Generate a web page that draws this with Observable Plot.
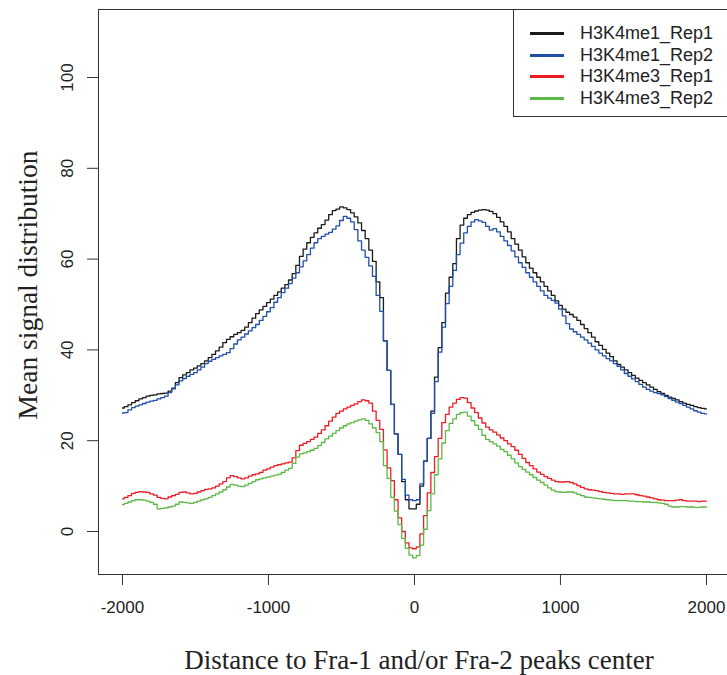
<!DOCTYPE html>
<html>
<head>
<meta charset="utf-8">
<script src="https://cdn.jsdelivr.net/npm/d3@7"></script>
<script src="https://cdn.jsdelivr.net/npm/@observablehq/plot@0.6"></script>
<style>
  html, body { margin: 0; padding: 0; background: #fff; overflow: hidden; }
  #wrap { position: relative; width: 727px; height: 675px; overflow: hidden; }
  #legend {
    position: absolute; left: 513px; top: 9px; width: 240px; height: 108px;
    border: 1px solid #333; background: #fff; box-sizing: border-box;
    font-family: "Liberation Sans", Arial, sans-serif; font-size: 18px; color: #222;
  }
  .row { position: absolute; left: 0; height: 20px; display: flex; align-items: center; }
  .sw { position: absolute; left: 16px; width: 34px; height: 3px; }
  .lb { position: absolute; left: 66px; white-space: nowrap; line-height: 20px; }
</style>
</head>
<body>
<div id="wrap">
  <div id="chart"></div>
  <div id="legend"></div>
</div>
<script>
// ---- data (bin centers every 25 bp, -2000 .. 2000) ----
const xStart = -2000, xStep = 25;
const seriesNames = ["H3K4me1_Rep1", "H3K4me1_Rep2", "H3K4me3_Rep1", "H3K4me3_Rep2"];
const seriesColors = ["#1a1a1a", "#1f4fa8", "#ec1c24", "#5cb946"];
const xTicks = [-2000, -1000, 0, 1000, 2000];
const yTicks = [0, 20, 40, 60, 80, 100];

const me1Rep1 = [
  27.2,27.5,27.9,28.4,28.8,29.2,29.5,29.8,30.0,30.1,
  30.3,30.4,30.5,30.9,31.6,32.8,33.9,34.5,35.0,35.6,
  36.0,36.5,37.0,37.6,38.3,39.0,39.8,40.6,41.6,42.3,
  42.9,43.4,43.8,44.3,45.0,46.0,47.0,48.0,48.8,49.6,
  50.4,51.2,52.0,52.8,53.6,54.4,55.4,56.8,58.6,60.6,
  62.2,63.6,64.8,65.8,66.8,67.6,68.6,69.8,70.7,71.0,
  71.5,71.3,70.9,70.2,69.3,68.0,66.3,64.5,62.0,59.5,
  55.0,51.5,42.0,35.5,28.0,21.5,17.0,11.0,7.0,5.0,
  5.0,6.0,10.0,15.5,20.5,26.5,34.0,40.5,46.0,52.5,
  56.0,59.0,64.5,67.5,69.0,69.8,70.3,70.6,70.8,70.9,
  70.8,70.5,70.0,69.2,68.2,67.2,66.0,64.5,63.3,62.0,
  60.5,59.2,58.0,57.0,56.0,55.0,54.0,53.0,52.0,50.8,
  49.8,49.0,48.3,47.8,47.2,46.5,45.6,44.7,43.8,42.8,
  41.8,41.0,40.1,39.3,38.5,37.6,36.8,36.2,35.6,35.0,
  34.4,33.8,33.3,32.8,32.3,31.8,31.3,30.8,30.4,30.0,
  29.6,29.3,29.0,28.6,28.3,28.0,27.8,27.5,27.3,27.1,
  27.0
];
const me1Rep2 = [
  26.1,26.2,26.8,27.3,27.6,27.9,28.2,28.5,28.7,28.9,
  29.2,29.5,29.8,30.6,31.4,32.3,33.2,33.7,34.2,34.6,
  35.0,35.6,36.2,37.0,37.5,37.9,38.3,38.7,39.0,39.4,
  40.3,41.3,42.2,42.8,43.5,44.2,44.9,45.6,46.5,47.4,
  48.4,49.3,50.5,51.5,52.6,53.6,54.6,55.8,57.0,58.3,
  59.6,61.0,62.4,63.6,64.5,65.0,65.5,65.9,66.6,67.3,
  68.5,69.4,69.0,68.2,66.5,64.0,62.0,60.4,58.5,56.2,
  52.0,48.5,42.0,35.5,28.0,21.5,17.0,11.5,8.0,7.0,
  6.8,7.0,10.5,15.5,20.5,26.0,33.0,39.5,45.0,50.2,
  54.0,57.5,61.0,63.5,65.8,67.2,68.2,68.7,68.4,68.1,
  67.2,66.4,66.7,66.0,65.0,64.0,63.0,61.8,60.5,59.2,
  58.2,57.0,56.0,55.0,54.0,53.0,52.0,51.4,50.9,50.3,
  49.0,47.5,45.8,44.6,44.0,43.4,42.8,42.2,41.5,40.8,
  40.0,39.3,38.7,38.1,37.6,37.0,36.4,35.6,34.8,34.2,
  33.6,33.0,32.4,31.8,31.3,30.9,30.6,30.4,30.1,29.7,
  29.3,28.9,28.5,28.2,27.8,27.4,27.0,26.6,26.3,26.0,
  25.9
];
const me3Rep1 = [
  7.2,7.5,7.9,8.4,8.6,8.8,8.7,8.6,8.3,8.0,
  7.5,7.3,7.2,7.6,7.9,8.2,8.6,8.7,8.5,8.3,
  8.4,8.7,9.0,9.3,9.4,9.6,10.0,10.5,11.0,11.8,
  12.3,12.1,11.8,11.6,11.8,12.2,12.5,12.7,13.0,13.5,
  13.8,14.2,14.5,14.7,14.9,15.1,15.3,16.2,17.8,19.0,
  19.4,19.8,20.3,20.8,21.6,22.4,23.3,24.3,25.2,26.0,
  26.5,27.0,27.4,27.8,28.1,28.6,29.0,28.8,28.3,26.5,
  24.5,22.5,18.0,14.0,11.2,7.0,3.0,0.0,-2.5,-3.6,
  -3.8,-3.4,-0.5,3.5,8.5,13.0,16.5,20.5,24.0,25.8,
  27.4,28.3,29.1,29.5,29.4,28.4,27.2,26.2,25.0,23.9,
  23.0,22.4,21.9,21.3,20.6,20.0,19.3,18.7,17.9,17.0,
  16.1,15.2,14.5,13.8,13.1,12.6,12.1,11.7,11.3,11.0,
  10.9,10.9,11.0,10.8,10.5,10.1,9.7,9.4,9.2,9.1,
  9.0,8.8,8.6,8.5,8.4,8.3,8.3,8.2,8.3,8.3,
  8.3,8.1,7.9,7.8,7.6,7.4,7.2,7.0,6.9,6.8,
  6.8,6.8,6.9,7.0,6.8,6.7,6.7,6.7,6.6,6.7,
  6.7
];
const me3Rep2 = [
  5.9,6.2,6.5,6.8,7.0,7.0,6.9,6.7,6.4,6.0,
  5.0,5.1,5.2,5.4,5.6,6.0,6.5,6.4,6.3,6.2,
  6.4,6.7,7.0,7.2,7.5,7.9,8.3,8.7,9.2,9.8,
  10.4,10.2,10.0,9.9,10.2,10.6,11.0,11.4,11.6,11.8,
  12.0,12.2,12.4,12.6,13.0,13.5,13.9,15.0,16.4,17.1,
  17.3,17.6,17.9,18.3,18.9,19.6,20.4,21.0,21.6,22.2,
  22.8,23.3,23.7,24.0,24.3,24.6,24.8,24.5,23.7,22.8,
  21.8,19.8,14.5,11.7,7.5,4.5,1.5,-1.5,-3.7,-5.2,
  -5.8,-5.3,-3.0,0.5,4.6,8.3,12.5,16.0,19.5,22.2,
  23.8,24.8,25.8,26.2,26.3,25.4,24.4,23.4,22.5,21.2,
  20.3,19.8,19.3,18.8,18.1,17.6,16.8,16.0,15.1,14.3,
  13.7,13.1,12.5,11.9,11.3,10.8,10.2,9.6,9.1,8.8,
  8.7,8.6,8.7,8.7,8.5,8.2,7.9,7.6,7.5,7.4,
  7.3,7.2,7.1,7.0,6.9,6.8,6.8,6.8,6.8,6.7,
  6.7,6.6,6.6,6.5,6.5,6.4,6.4,6.3,6.2,6.0,
  5.6,5.4,5.4,5.5,5.5,5.4,5.4,5.3,5.3,5.4,
  5.4
];

// ---- build long table ----
const allSeries = [me1Rep1, me1Rep2, me3Rep1, me3Rep2];
const rows = [];
allSeries.forEach((arr, k) => {
  arr.forEach((v, i) => rows.push({series: seriesNames[k], x: xStart + i * xStep, y: v}));
});

const sans = "'Liberation Sans', Arial, sans-serif";
const serif = "'Liberation Serif', 'Times New Roman', serif";

const chart = Plot.plot({
  width: 727,
  height: 675,
  marginLeft: 98,
  marginRight: 0,
  marginTop: 9,
  marginBottom: 101,
  style: {fontFamily: sans, background: "#fff", color: "#333"},
  x: {domain: [-2164, 2144], axis: null},
  y: {domain: [-9.47, 114.98], axis: null},
  color: {domain: seriesNames, range: seriesColors},
  marks: [
    Plot.frame({stroke: "#333", strokeWidth: 1}),
    Plot.axisX({ticks: xTicks, tickSize: 11, tickPadding: 15, tickFormat: d => String(d),
                fontSize: 17, label: null, stroke: "#333", fill: "#222"}),
    Plot.axisY({ticks: yTicks, tickSize: 11, tickFormat: () => "", label: null, stroke: "#333"}),
    Plot.text(yTicks, {y: d => d, text: d => String(d), frameAnchor: "left", dx: -31,
                       rotate: -90, fontSize: 17, fill: "#222", textAnchor: "middle", lineAnchor: "middle"}),
    Plot.text(["Distance to Fra-1 and/or Fra-2 peaks center"], {frameAnchor: "bottom", dx: 6, dy: 86,
                       fontFamily: serif, fontSize: 27, fill: "#222", textAnchor: "middle", lineAnchor: "middle"}),
    Plot.text(["Mean signal distribution"], {frameAnchor: "left", dx: -70, dy: -7, rotate: -90,
                       fontFamily: serif, fontSize: 27.5, fill: "#222", textAnchor: "middle", lineAnchor: "middle"}),
    Plot.line(rows, {x: "x", y: "y", z: "series", stroke: "series", curve: "step", strokeWidth: 1.3})
  ]
});
document.getElementById("chart").appendChild(chart);

// ---- legend ----
const legend = document.getElementById("legend");
seriesNames.forEach((name, i) => {
  const row = document.createElement("div");
  row.className = "row";
  row.style.top = (13 + i * 21.6) + "px";
  row.style.width = "100%";
  const sw = document.createElement("div");
  sw.className = "sw";
  sw.style.background = seriesColors[i];
  sw.style.top = "9px";
  const lb = document.createElement("div");
  lb.className = "lb";
  lb.textContent = name;
  row.appendChild(sw);
  row.appendChild(lb);
  legend.appendChild(row);
});
</script>
</body>
</html>
